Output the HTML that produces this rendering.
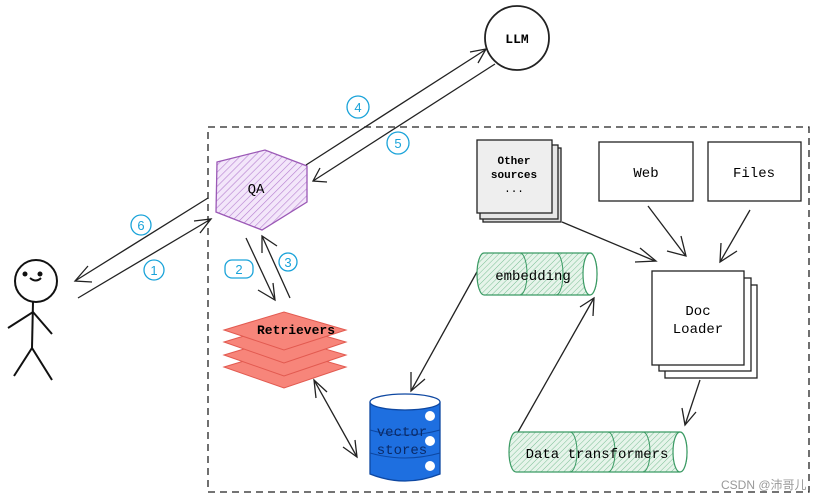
<!DOCTYPE html>
<html><head><meta charset="utf-8"><style>
body{margin:0;background:#fff;}
svg{display:block;font-family:"Liberation Mono",monospace;}
</style></head><body>
<svg width="828" height="500" viewBox="0 0 828 500" xmlns="http://www.w3.org/2000/svg">
<defs>
<pattern id="hp" width="5" height="5" patternUnits="userSpaceOnUse" patternTransform="rotate(45)"><rect width="5" height="5" fill="#f3e6fa"/><line x1="0" y1="0" x2="0" y2="5" stroke="#b57fd0" stroke-width="1.2"/></pattern>
<pattern id="hg" width="4" height="4" patternUnits="userSpaceOnUse" patternTransform="rotate(45)"><rect width="4" height="4" fill="#e6f4ea"/><line x1="0" y1="0" x2="0" y2="4" stroke="#7bbf95" stroke-width="1"/></pattern>
</defs>
<!-- dashed box -->
<rect x="208" y="127" width="601" height="365" fill="none" stroke="#222" stroke-width="1.3" stroke-dasharray="7,5"/>
<!-- LLM -->
<circle cx="517" cy="38" r="32" fill="#fff" stroke="#222" stroke-width="1.8"/>
<text x="517" y="43" font-size="13" text-anchor="middle" font-weight="bold">LLM</text>
<!-- QA -->
<polygon points="217,162 265,150 307,166 307,202 262,230 216,212" fill="url(#hp)" stroke="#9b59b6" stroke-width="1.3"/>
<text x="256" y="193" font-size="14" text-anchor="middle">QA</text>
<!-- arrows QA-LLM -->
<g stroke="#222" stroke-width="1.3" fill="none">
<line x1="306" y1="165" x2="485" y2="50"/><polyline points="470,52 486,49 478,63"/>
<line x1="495" y1="64" x2="313" y2="181"/><polyline points="327,182 313,181 320,168"/>
<line x1="208" y1="198" x2="75" y2="281"/><polyline points="92,282 75,281 88,266"/>
<line x1="78" y1="298" x2="211" y2="219"/><polyline points="194,221 211,219 200,233"/>
<line x1="246" y1="238" x2="275" y2="300"/><polyline points="258,290 275,300 273,283"/>
<line x1="290" y1="298" x2="262" y2="236"/><polyline points="262,253 262,236 277,246"/>
<line x1="314" y1="380" x2="357" y2="457"/><polyline points="316,398 314,380 327,392"/><polyline points="343,447 357,457 355,440"/>
<line x1="478" y1="270" x2="411" y2="391"/><polyline points="411,372 411,391 425,379"/>
<line x1="518" y1="432" x2="594" y2="298"/><polyline points="580,307 594,298 593,316"/>
<line x1="562" y1="222" x2="655" y2="261"/><polyline points="640,248 656,261 635,262"/>
<line x1="648" y1="206" x2="685" y2="255"/><polyline points="667,251 686,256 681,236"/>
<line x1="750" y1="210" x2="720" y2="262"/><polyline points="721,243 720,262 737,251"/>
<line x1="700" y1="380" x2="685" y2="425"/><polyline points="682,408 685,425 696,412"/>
</g>
<!-- numbers -->
<g fill="none" stroke="#1aa3d9" stroke-width="1.3">
<circle cx="141" cy="225" r="10"/><circle cx="154" cy="270" r="10"/><rect x="225" y="260" width="28" height="18" rx="7"/><circle cx="288" cy="262" r="9"/><circle cx="358" cy="107" r="11"/><circle cx="398" cy="143" r="11"/>
</g>
<g fill="#1aa3d9" font-family="Liberation Sans,sans-serif" font-size="13" text-anchor="middle">
<text x="141" y="230">6</text><text x="154" y="275">1</text><text x="239" y="274">2</text><text x="288" y="267">3</text><text x="358" y="112">4</text><text x="398" y="148">5</text>
</g>
<!-- stick figure -->
<g stroke="#111" stroke-width="2" fill="none">
<circle cx="36" cy="281" r="21"/>
<line x1="33" y1="302" x2="32" y2="348"/>
<polyline points="8,328 33,312 52,334"/>
<polyline points="14,376 32,348 52,380"/>
<path d="M30,278 q6,5 11,0"/>
</g>
<circle cx="25" cy="274" r="2.5" fill="#111"/><circle cx="40" cy="274" r="2.5" fill="#111"/>
<!-- retrievers -->
<g fill="#f7857a" stroke="#e25a50" stroke-width="1">
<polygon points="224,367 284,349 346,367 284,388"/>
<polygon points="224,355 284,337 346,355 284,376"/>
<polygon points="224,342 284,324 346,342 284,363"/>
<polygon points="224,330 284,312 346,330 284,350"/>
</g>
<text x="296" y="334" font-size="13" text-anchor="middle" font-weight="bold">Retrievers</text>
<!-- vector stores -->
<path d="M370,402 v72 q35,14 70,0 v-72" fill="#1e6fe0" stroke="#0d47a1" stroke-width="1.3"/>
<ellipse cx="405" cy="402" rx="35" ry="8" fill="#fff" stroke="#0d47a1" stroke-width="1.3"/>
<path d="M370,430 q35,10 70,0 M370,453 q35,10 70,0" fill="none" stroke="#0d47a1"/>
<circle cx="430" cy="416" r="5" fill="#fff"/><circle cx="430" cy="441" r="5" fill="#fff"/><circle cx="430" cy="466" r="5" fill="#fff"/>
<text x="402" y="436" font-size="14" text-anchor="middle" fill="#0b2a66">vector</text>
<text x="402" y="454" font-size="14" text-anchor="middle" fill="#0b2a66">stores</text>
<!-- embedding -->
<path d="M484,253 h106 a7,21 0 0 1 0,42 h-106 a7,21 0 0 1 0,-42z" fill="url(#hg)" stroke="#3a9a63" stroke-width="1.2"/>
<path d="M520,253 a7,21 0 0 1 0,42 M556,253 a7,21 0 0 1 0,42" fill="none" stroke="#3a9a63"/>
<ellipse cx="590" cy="274" rx="7" ry="21" fill="#fff" stroke="#3a9a63" stroke-width="1.2"/>
<text x="533" y="280" font-size="14" text-anchor="middle">embedding</text>
<!-- data transformers -->
<path d="M516,432 h164 a7,20 0 0 1 0,40 h-164 a7,20 0 0 1 0,-40z" fill="url(#hg)" stroke="#3a9a63" stroke-width="1.2"/>
<path d="M570,432 a7,20 0 0 1 0,40 M608,432 a7,20 0 0 1 0,40 M643,432 a7,20 0 0 1 0,40" fill="none" stroke="#3a9a63"/>
<ellipse cx="680" cy="452" rx="7" ry="20" fill="#fff" stroke="#3a9a63" stroke-width="1.2"/>
<text x="597" y="458" font-size="14" text-anchor="middle">Data transformers</text>
<!-- other sources -->
<g stroke="#222" stroke-width="1.3">
<rect x="483" y="148" width="78" height="74" fill="#ddd"/>
<rect x="480" y="145" width="78" height="74" fill="#e6e6e6"/>
<rect x="477" y="140" width="75" height="73" fill="#eee"/>
</g>
<text x="514" y="164" font-size="11" text-anchor="middle" font-weight="bold">Other</text>
<text x="514" y="178" font-size="11" text-anchor="middle" font-weight="bold">sources</text>
<text x="514" y="192" font-size="11" text-anchor="middle">...</text>
<!-- web/files -->
<rect x="599" y="142" width="94" height="59" fill="#fff" stroke="#222" stroke-width="1.3"/>
<text x="646" y="177" font-size="14" text-anchor="middle">Web</text>
<rect x="708" y="142" width="93" height="59" fill="#fff" stroke="#222" stroke-width="1.3"/>
<text x="754" y="177" font-size="14" text-anchor="middle">Files</text>
<!-- doc loader -->
<g fill="#fff" stroke="#222" stroke-width="1.3">
<rect x="665" y="285" width="92" height="93"/>
<rect x="659" y="278" width="92" height="93"/>
<rect x="652" y="271" width="92" height="94"/>
</g>
<text x="698" y="315" font-size="14" text-anchor="middle">Doc</text>
<text x="698" y="333" font-size="14" text-anchor="middle">Loader</text>
<text x="721" y="489" font-size="12" fill="#999" font-family="Liberation Sans,'Noto Sans CJK SC',sans-serif">CSDN @沛哥儿</text>
</svg>
</body></html>
